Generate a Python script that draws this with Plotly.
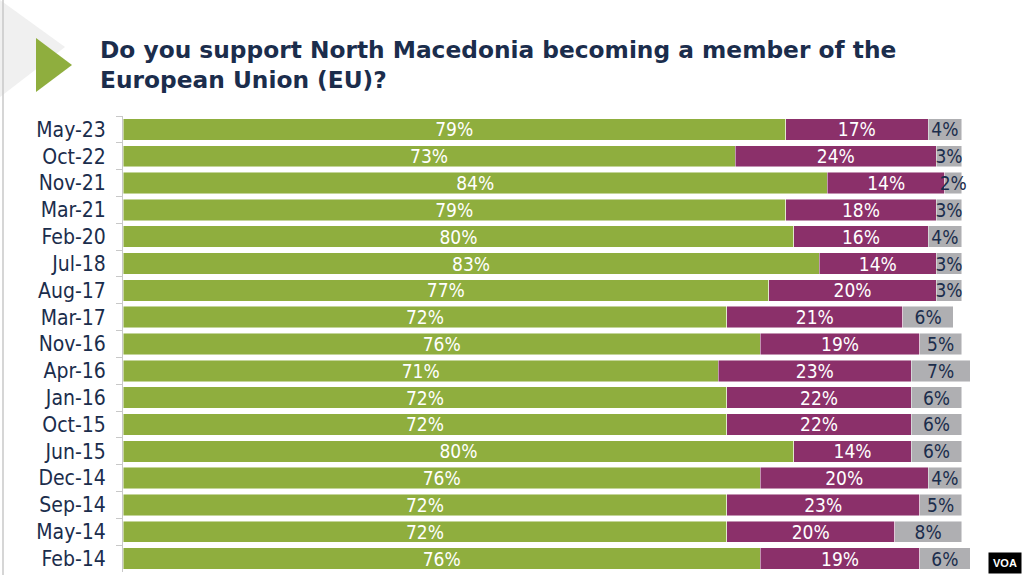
import plotly.graph_objects as go

# Survey waves, top to bottom
waves = ["May-23", "Oct-22", "Nov-21", "Mar-21", "Feb-20", "Jul-18", "Aug-17",
         "Mar-17", "Nov-16", "Apr-16", "Jan-16", "Oct-15", "Jun-15", "Dec-14",
         "Sep-14", "May-14", "Feb-14"]

yes = [79, 73, 84, 79, 80, 83, 77, 72, 76, 71, 72, 72, 80, 76, 72, 72, 76]
no = [17, 24, 14, 18, 16, 14, 20, 21, 19, 23, 22, 22, 14, 20, 23, 20, 19]
dont_know = [4, 3, 2, 3, 4, 3, 3, 6, 5, 7, 6, 6, 6, 4, 5, 8, 6]

GREEN = "#8fae3e"
PURPLE = "#8b306a"
GREY = "#afafb2"
NAVY = "#1b2d4c"

W, H = 1023, 575
ML, MR, MT, MB = 123, 53, 116, 3
XMAX = 101  # a couple of waves add up to 101%


def px(x, y):
    """pixel position -> paper coords (for decorations only)"""
    return (x - ML) / (W - ML - MR), (H - MB - y) / (H - MT - MB)


def tri(points):
    pts = [px(*p) for p in points]
    return "M " + " L ".join(f"{a:.4f},{b:.4f}" for a, b in pts) + " Z"


fig = go.Figure()
for vals, color, tcolor in [(yes, GREEN, "white"), (no, PURPLE, "white"),
                            (dont_know, GREY, NAVY)]:
    fig.add_trace(go.Bar(
        y=waves, x=vals, orientation="h",
        marker=dict(color=color, line=dict(color="rgba(255,255,255,0.6)", width=0.8)),
        text=[f"{v}%" for v in vals], textposition="inside", textangle=0,
        insidetextanchor="middle",
        textfont=dict(family="DejaVu Sans Condensed, DejaVu Sans", size=19, color=tcolor),
        cliponaxis=False, hoverinfo="skip",
    ))

fig.update_layout(
    width=W, height=H,
    barmode="stack", bargap=0.2,
    showlegend=False,
    plot_bgcolor="white", paper_bgcolor="white",
    margin=dict(l=ML, r=MR, t=MT, b=MB),
    uniformtext=dict(minsize=19, mode="show"),
    title=dict(
        text="Do you support North Macedonia becoming a member of the<br>European Union (EU)?",
        x=100 / W, xanchor="left", xref="container",
        y=1 - 58 / H, yanchor="top", yref="container",
        font=dict(family="DejaVu Sans", size=23.3, color=NAVY, weight="bold"),
    ),
    xaxis=dict(range=[0, XMAX], visible=False, fixedrange=True),
    yaxis=dict(
        autorange="reversed", showline=True, linecolor="#c8c8c8", linewidth=1,
        ticks="outside", tickson="boundaries", ticklen=6, tickcolor="#c8c8c8",
        showgrid=False, ticklabelstandoff=12, fixedrange=True,
        tickfont=dict(family="DejaVu Sans Condensed, DejaVu Sans", size=21, color=NAVY),
    ),
    shapes=[
        # pale backdrop triangle and green arrow of the slide template
        dict(type="path", xref="paper", yref="paper", path=tri([(0, 0), (65, 47), (0, 97)]),
             fillcolor="#f0f0f0", line_width=0, layer="below"),
        dict(type="path", xref="paper", yref="paper", path=tri([(36, 38), (72, 65), (36, 92)]),
             fillcolor=GREEN, line_width=0),
        dict(type="line", xref="paper", yref="paper",
             x0=px(3, 0)[0], x1=px(3, 0)[0], y0=px(0, 0)[1], y1=px(0, H)[1],
             line=dict(color="#c8c8c8", width=1.5)),
    ],
    annotations=[
        dict(text="<b>VOA</b>", xref="paper", yref="paper",
             x=px(1022, 0)[0], y=px(0, 574)[1], xanchor="right", yanchor="bottom",
             showarrow=False, bgcolor="black", borderpad=4,
             font=dict(family="Liberation Sans", size=11, color="white")),
    ],
)

# drop the browser's default body margin so the figure sits flush in the window
fig.write_html("out.html", config={"displayModeBar": False},
               post_script="document.body.style.margin='0';")
